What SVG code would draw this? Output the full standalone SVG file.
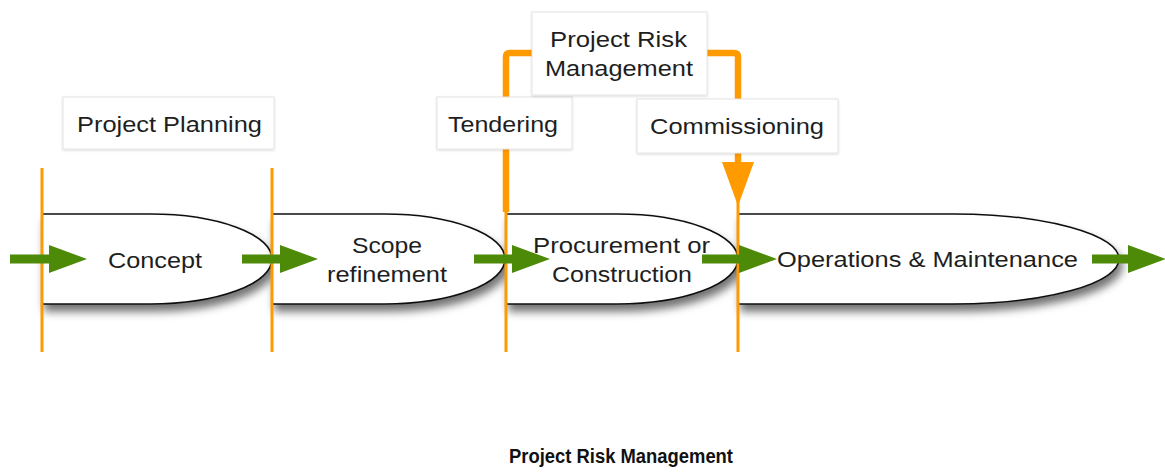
<svg xmlns="http://www.w3.org/2000/svg" width="1165" height="472" viewBox="0 0 1165 472">
<style>
.stage{fill:#fff;stroke:#111;stroke-width:1.6;filter:url(#sh)}
.lbl{fill:#fff;stroke:#e4e4e4;stroke-width:1;filter:url(#sh2)}
.t{font-family:"Liberation Sans",Arial,sans-serif;font-size:22px;fill:#1e1e1e;text-anchor:start}
.ph{stroke:#FF9A00;stroke-width:3;fill:none}
.br{stroke:#FF9A00;stroke-width:6.5;fill:none;stroke-linejoin:round}
.title{font-family:"Liberation Sans",Arial,sans-serif;font-weight:bold;font-size:20px;fill:#111}
</style>
<defs>
<filter id="sh" x="-10%" y="-20%" width="130%" height="160%">
<feDropShadow dx="3" dy="7" stdDeviation="4" flood-color="#000" flood-opacity="0.55"/>
</filter>
<filter id="sh2" x="-10%" y="-20%" width="130%" height="160%">
<feDropShadow dx="0" dy="1" stdDeviation="1" flood-color="#000" flood-opacity="0.15"/>
</filter>
<marker id="ga" viewBox="0 0 38 28" refX="0" refY="14" markerWidth="38" markerHeight="28" markerUnits="userSpaceOnUse" orient="auto">
<path d="M0,0 L38,14 L0,28 Z" fill="#4C8A08"/>
</marker>
</defs>

<g id="connectors-bracket">
<path class="br" d="M506,212 V57 Q506,53 510,53 H734 Q738,53 738,57 V166"/>
<path d="M722,162 L754,162 L738,206 Z" fill="#FF9A00"/>
</g>

<g id="concept">
<path class="stage" d="M42,214 H150 A122,45 0 0 1 272,259 A122,45 0 0 1 150,304 H42 Z"/>
<text class="t" x="108" y="268" textLength="94" lengthAdjust="spacingAndGlyphs">Concept</text>
</g>
<g id="scope">
<path class="stage" d="M272,214 H384 A121,45 0 0 1 505,259 A121,45 0 0 1 384,304 H272 Z"/>
<text class="t" x="352" y="253" textLength="70" lengthAdjust="spacingAndGlyphs">Scope</text>
<text class="t" x="327" y="282" textLength="120" lengthAdjust="spacingAndGlyphs">refinement</text>
</g>
<g id="procurement">
<path class="stage" d="M506,214 H617 A121,45 0 0 1 738,259 A121,45 0 0 1 617,304 H506 Z"/>
<text class="t" x="533" y="253" textLength="177" lengthAdjust="spacingAndGlyphs">Procurement or</text>
<text class="t" x="552" y="282" textLength="140" lengthAdjust="spacingAndGlyphs">Construction</text>
</g>
<g id="operations">
<path class="stage" d="M738,214 H953 A166,45 0 0 1 1119,259 A166,45 0 0 1 953,304 H738 Z"/>
<text class="t" x="777" y="267" textLength="301" lengthAdjust="spacingAndGlyphs">Operations &amp; Maintenance</text>
</g>

<g id="phase-lines">
<line class="ph" x1="42" y1="168" x2="42" y2="352"/>
<line class="ph" x1="272" y1="168" x2="272" y2="352"/>
<line class="ph" x1="506" y1="205" x2="506" y2="352"/>
<line class="ph" x1="738" y1="200" x2="738" y2="352"/>
</g>

<g id="flow-arrows" stroke="#4C8A08" stroke-width="9" marker-end="url(#ga)">
<line x1="10" y1="259" x2="49" y2="259"/>
<line x1="242" y1="259" x2="280" y2="259"/>
<line x1="474" y1="259" x2="512" y2="259"/>
<line x1="702" y1="259" x2="739" y2="259"/>
<line x1="1092" y1="259" x2="1128" y2="259"/>
</g>

<g id="project-planning">
<rect class="lbl" x="63" y="97" width="211" height="52"/>
<text class="t" x="77" y="132" textLength="185" lengthAdjust="spacingAndGlyphs">Project Planning</text>
</g>
<g id="tendering">
<rect class="lbl" x="437" y="97" width="135" height="52"/>
<text class="t" x="448" y="132" textLength="110" lengthAdjust="spacingAndGlyphs">Tendering</text>
</g>
<g id="risk-management">
<rect class="lbl" x="532" y="12" width="175" height="83"/>
<text class="t" x="550" y="47" textLength="137" lengthAdjust="spacingAndGlyphs">Project Risk</text>
<text class="t" x="545" y="76" textLength="148" lengthAdjust="spacingAndGlyphs">Management</text>
</g>
<g id="commissioning">
<rect class="lbl" x="637" y="99" width="201" height="54"/>
<text class="t" x="650" y="134" textLength="174" lengthAdjust="spacingAndGlyphs">Commissioning</text>
</g>

<text class="title" x="509" y="463" textLength="224" lengthAdjust="spacingAndGlyphs">Project Risk Management</text>
</svg>
